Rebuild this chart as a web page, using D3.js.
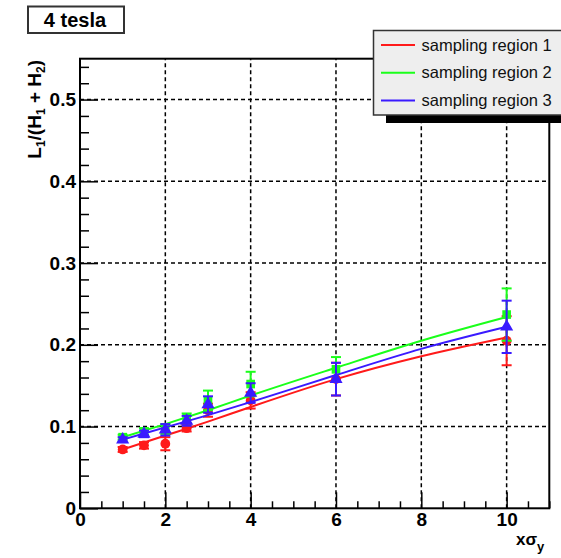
<!DOCTYPE html>
<html>
<head>
<meta charset="utf-8">
<script src="https://cdn.jsdelivr.net/npm/d3@7"></script>
<style>
  body { margin: 0; background: #fff; }
  svg { display: block; font-family: "Liberation Sans", Arial, sans-serif; }
</style>
</head>
<body>
<svg id="chart" width="561" height="558"></svg>
<script>
// measured points (x in units of sigma_y)
const xPoints = [1, 1.5, 2, 2.5, 3, 4, 6, 10];

const region1 = [0.072, 0.077, 0.079, 0.098, 0.120, 0.132, 0.158, 0.205];
const region1Err = [0.003, 0.004, 0.008, 0.004, 0.008, 0.010, 0.020, 0.030];
const region2 = [0.087, 0.094, 0.097, 0.110, 0.132, 0.152, 0.170, 0.237];
const region2Err = [0.003, 0.004, 0.006, 0.006, 0.012, 0.015, 0.015, 0.032];
const region3 = [0.084, 0.091, 0.096, 0.107, 0.127, 0.141, 0.158, 0.222];
const region3Err = [0.003, 0.004, 0.007, 0.006, 0.010, 0.012, 0.020, 0.032];

// fit curves
const fitX = [1, 2, 3, 4, 6, 8, 10];
const fit1 = [0.072, 0.089, 0.106, 0.124, 0.158, 0.186, 0.209];
const fit2 = [0.087, 0.103, 0.120, 0.138, 0.172, 0.205, 0.234];
const fit3 = [0.084, 0.099, 0.114, 0.130, 0.163, 0.195, 0.222];

const xTicks = [0, 2, 4, 6, 8, 10];
const yTicks = [0, 0.1, 0.2, 0.3, 0.4, 0.5];
const legendLabels = ['sampling region 1', 'sampling region 2', 'sampling region 3'];

const svg = d3.select('#chart');
const margin = { top: 58.7, right: 11.7, bottom: 49.7, left: 80 };
const width = 561 - margin.left - margin.right;
const height = 558 - margin.top - margin.bottom;

const x = d3.scaleLinear().domain([0, 11]).range([margin.left, margin.left + width]);
const y = d3.scaleLinear().domain([0, 0.55]).range([margin.top + height, margin.top]);

// grid
const grid = svg.append('g');
grid.selectAll('.gx')
  .data(xTicks.filter(d => d > 0))
  .enter().append('line')
  .attr('x1', d => x(d)).attr('x2', d => x(d))
  .attr('y1', y(0)).attr('y2', y(0.55))
  .attr('stroke', '#000').attr('stroke-width', 1.5)
  .attr('stroke-dasharray', '4,3');
grid.selectAll('.gy')
  .data(yTicks.filter(d => d > 0))
  .enter().append('line')
  .attr('x1', x(0)).attr('x2', x(11))
  .attr('y1', d => y(d)).attr('y2', d => y(d))
  .attr('stroke', '#000').attr('stroke-width', 1.5)
  .attr('stroke-dasharray', '4,3');

// axes
const xAxis = svg.append('g')
  .attr('transform', `translate(0,${y(0)})`)
  .call(d3.axisTop(x).tickValues(d3.range(0, 11.01, 0.5)).tickSize(7).tickFormat(''));
xAxis.selectAll('.tick line').filter(d => xTicks.includes(d)).attr('y2', -16);
xAxis.select('.domain').remove();
xAxis.selectAll('.tick line').attr('stroke', '#000').attr('stroke-width', 1.5);

const xLabels = svg.append('g').attr('transform', `translate(0,${y(0)})`)
  .call(d3.axisBottom(x).tickValues(xTicks).tickSize(0).tickPadding(4).tickFormat(d3.format('d')));
xLabels.select('.domain').remove();
xLabels.selectAll('text')
  .attr('font-family', '"Liberation Sans", Arial, sans-serif')
  .attr('font-size', 19).attr('font-weight', 'bold').attr('fill', '#000');

const yAxis = svg.append('g')
  .attr('transform', `translate(${x(0)},0)`)
  .call(d3.axisRight(y).tickValues(d3.range(0, 0.5501, 0.02)).tickSize(9).tickFormat(''));
yAxis.selectAll('.tick line').filter(d => yTicks.some(t => Math.abs(t - d) < 1e-6)).attr('x2', 18);
yAxis.select('.domain').remove();
yAxis.selectAll('.tick line').attr('stroke', '#000').attr('stroke-width', 1.5);

const yLabels = svg.append('g').attr('transform', `translate(${x(0)},0)`)
  .call(d3.axisLeft(y).tickValues(yTicks).tickSize(0).tickPadding(4)
    .tickFormat(d => d === 0 ? '0' : d3.format('.1f')(d)));
yLabels.select('.domain').remove();
yLabels.selectAll('text')
  .attr('font-family', '"Liberation Sans", Arial, sans-serif')
  .attr('font-size', 19).attr('font-weight', 'bold').attr('fill', '#000');

// frame
svg.append('rect')
  .attr('x', x(0)).attr('y', y(0.55))
  .attr('width', x(11) - x(0)).attr('height', y(0) - y(0.55))
  .attr('fill', 'none').attr('stroke', '#000').attr('stroke-width', 2);

// series
const series = [
  { vals: region1, errs: region1Err, fit: fit1, color: '#ff1a1a', marker: d3.symbolCircle },
  { vals: region2, errs: region2Err, fit: fit2, color: '#1aff1a', marker: d3.symbolSquare },
  { vals: region3, errs: region3Err, fit: fit3, color: '#3a1aff', marker: d3.symbolTriangle }
];

const line = d3.line()
  .x((d, i) => x(fitX[i]))
  .y(d => y(d))
  .curve(d3.curveMonotoneX);

series.forEach(s => {
  const g = svg.append('g');
  g.append('path')
    .attr('d', line(s.fit))
    .attr('fill', 'none').attr('stroke', s.color).attr('stroke-width', 2);

  const pts = g.selectAll('.pt').data(s.vals).enter().append('g');
  pts.append('line')
    .attr('x1', (d, i) => x(xPoints[i])).attr('x2', (d, i) => x(xPoints[i]))
    .attr('y1', (d, i) => y(d - s.errs[i])).attr('y2', (d, i) => y(d + s.errs[i]))
    .attr('stroke', s.color).attr('stroke-width', 2);
  [-1, 1].forEach(sign => {
    pts.append('line')
      .attr('x1', (d, i) => x(xPoints[i]) - 5).attr('x2', (d, i) => x(xPoints[i]) + 5)
      .attr('y1', (d, i) => y(d + sign * s.errs[i])).attr('y2', (d, i) => y(d + sign * s.errs[i]))
      .attr('stroke', s.color).attr('stroke-width', 2);
  });
  pts.append('path')
    .attr('d', d3.symbol().type(s.marker).size(75))
    .attr('transform', (d, i) => `translate(${x(xPoints[i])},${y(d)})`)
    .attr('fill', s.color);
});

// title box
svg.append('rect')
  .attr('x', 28).attr('y', 6.5).attr('width', 96).attr('height', 26.5)
  .attr('fill', '#fff').attr('stroke', '#333').attr('stroke-width', 2);
svg.append('text')
  .attr('x', 75).attr('y', 27)
  .attr('text-anchor', 'middle')
  .attr('font-size', 20).attr('font-weight', 'bold')
  .text('4 tesla');

// legend
const lg = svg.append('g');
lg.append('rect')
  .attr('x', 386).attr('y', 38).attr('width', 200).attr('height', 85)
  .attr('fill', '#000');
lg.append('rect')
  .attr('x', 373.5).attr('y', 30.5).attr('width', 200).attr('height', 84.5)
  .attr('fill', '#eeeeee').attr('stroke', '#333').attr('stroke-width', 1.5);
legendLabels.forEach((lbl, i) => {
  const yy = 45 + i * 27.8;
  lg.append('line')
    .attr('x1', 381).attr('x2', 415).attr('y1', yy).attr('y2', yy)
    .attr('stroke', series[i].color).attr('stroke-width', 2);
  lg.append('text')
    .attr('x', 421.5).attr('y', yy + 5.5)
    .attr('font-size', 16.5).attr('fill', '#111')
    .text(lbl);
});

// axis titles
const yt = svg.append('text')
  .attr('transform', 'translate(41,60) rotate(-90)')
  .attr('text-anchor', 'end')
  .attr('font-size', 19).attr('font-weight', 'bold');
yt.append('tspan').text('L');
yt.append('tspan').attr('font-size', 12).attr('dy', 4).text('1');
yt.append('tspan').attr('dy', -4).text('/(H');
yt.append('tspan').attr('font-size', 12).attr('dy', 4).text('1');
yt.append('tspan').attr('dy', -4).text(' + H');
yt.append('tspan').attr('font-size', 12).attr('dy', 4).text('2');
yt.append('tspan').attr('dy', -4).text(')');

const xt = svg.append('text')
  .attr('x', 516).attr('y', 545)
  .attr('font-size', 17).attr('font-weight', 'bold');
xt.append('tspan').text('xσ');
xt.append('tspan').attr('font-size', 13).attr('dy', 6).text('y');
</script>
</body>
</html>
